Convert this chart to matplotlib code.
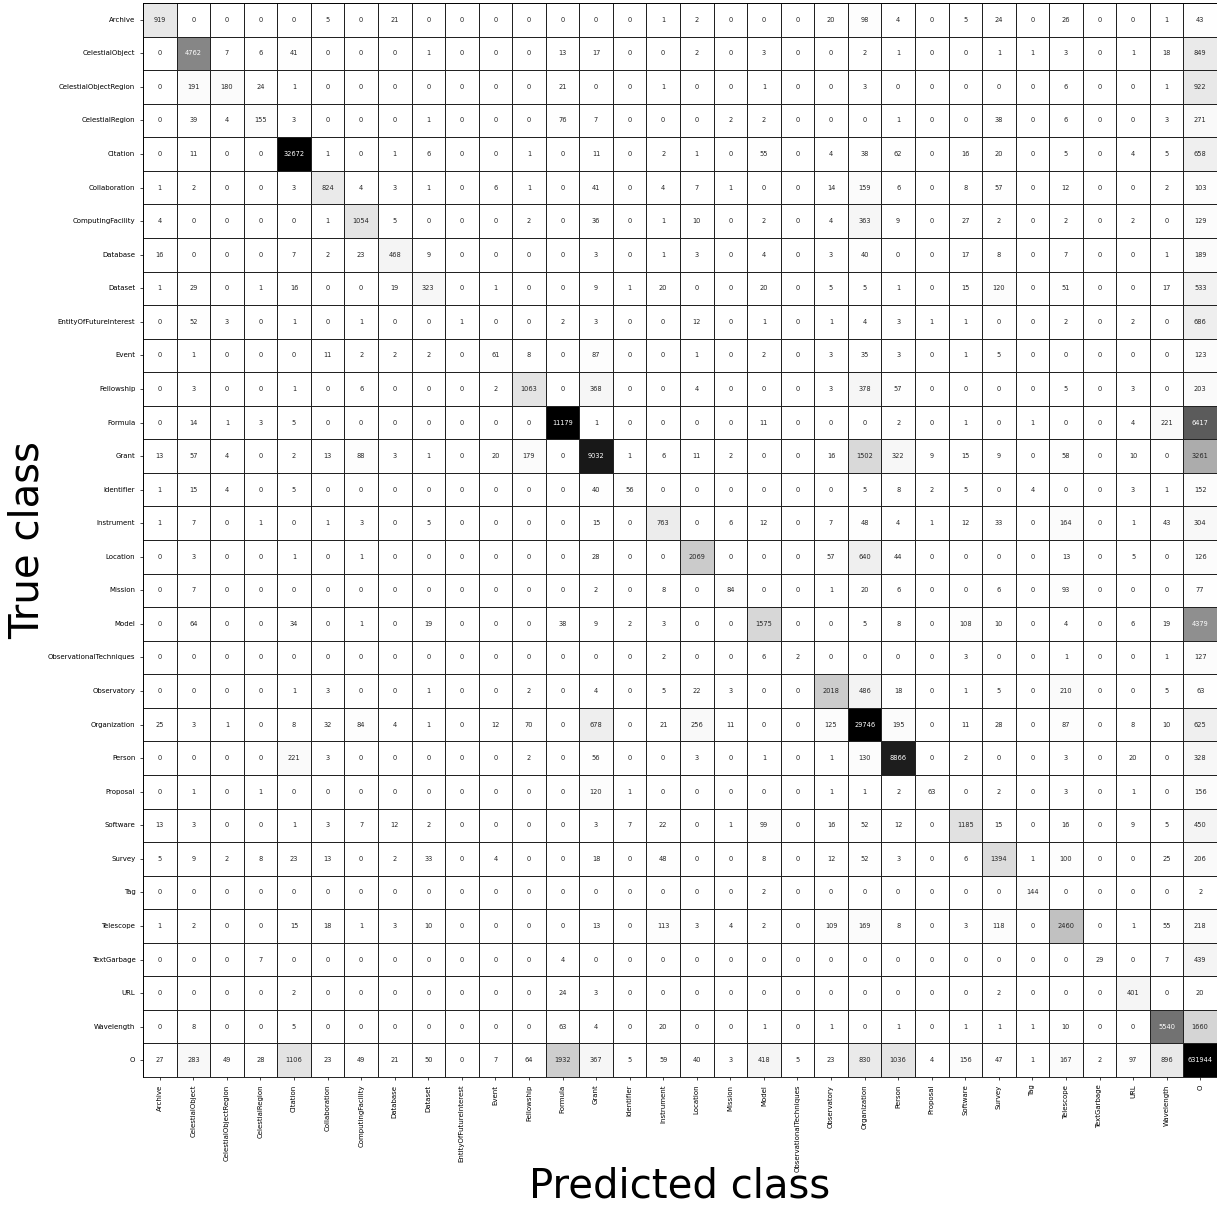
import numpy as np
import matplotlib
matplotlib.use("Agg")
import matplotlib.pyplot as plt
import seaborn as sns

classes = ["Archive", "CelestialObject", "CelestialObjectRegion", "CelestialRegion", "Citation",
           "Collaboration", "ComputingFacility", "Database", "Dataset", "EntityOfFutureInterest",
           "Event", "Fellowship", "Formula", "Grant", "Identifier", "Instrument", "Location",
           "Mission", "Model", "ObservationalTechniques", "Observatory", "Organization", "Person",
           "Proposal", "Software", "Survey", "Tag", "Telescope", "TextGarbage", "URL",
           "Wavelength", "O"]

row_archive = [919, 0, 0, 0, 0, 5, 0, 21, 0, 0, 0, 0, 0, 0, 0, 1, 2, 0, 0, 0, 20, 98, 4, 0, 5, 24, 0, 26, 0, 0, 1, 43]
row_celestialobject = [0, 4762, 7, 6, 41, 0, 0, 0, 1, 0, 0, 0, 13, 17, 0, 0, 2, 0, 3, 0, 0, 2, 1, 0, 0, 1, 1, 3, 0, 1, 18, 849]
row_celestialobjectregion = [0, 191, 180, 24, 1, 0, 0, 0, 0, 0, 0, 0, 21, 0, 0, 1, 0, 0, 1, 0, 0, 3, 0, 0, 0, 0, 0, 6, 0, 0, 1, 922]
row_celestialregion = [0, 39, 4, 155, 3, 0, 0, 0, 1, 0, 0, 0, 76, 7, 0, 0, 0, 2, 2, 0, 0, 0, 1, 0, 0, 38, 0, 6, 0, 0, 3, 271]
row_citation = [0, 11, 0, 0, 32672, 1, 0, 1, 6, 0, 0, 1, 0, 11, 0, 2, 1, 0, 55, 0, 4, 38, 62, 0, 16, 20, 0, 5, 0, 4, 5, 658]
row_collaboration = [1, 2, 0, 0, 3, 824, 4, 3, 1, 0, 6, 1, 0, 41, 0, 4, 7, 1, 0, 0, 14, 159, 6, 0, 8, 57, 0, 12, 0, 0, 2, 103]
row_computingfacility = [4, 0, 0, 0, 0, 1, 1054, 5, 0, 0, 0, 2, 0, 36, 0, 1, 10, 0, 2, 0, 4, 363, 9, 0, 27, 2, 0, 2, 0, 2, 0, 129]
row_database = [16, 0, 0, 0, 7, 2, 23, 468, 9, 0, 0, 0, 0, 3, 0, 1, 3, 0, 4, 0, 3, 40, 0, 0, 17, 8, 0, 7, 0, 0, 1, 189]
row_dataset = [1, 29, 0, 1, 16, 0, 0, 19, 323, 0, 1, 0, 0, 9, 1, 20, 0, 0, 20, 0, 5, 5, 1, 0, 15, 120, 0, 51, 0, 0, 17, 533]
row_entity = [0, 52, 3, 0, 1, 0, 1, 0, 0, 1, 0, 0, 2, 3, 0, 0, 12, 0, 1, 0, 1, 4, 3, 1, 1, 0, 0, 2, 0, 2, 0, 686]
row_event = [0, 1, 0, 0, 0, 11, 2, 2, 2, 0, 61, 8, 0, 87, 0, 0, 1, 0, 2, 0, 3, 35, 3, 0, 1, 5, 0, 0, 0, 0, 0, 123]
row_fellowship = [0, 3, 0, 0, 1, 0, 6, 0, 0, 0, 2, 1063, 0, 368, 0, 0, 4, 0, 0, 0, 3, 378, 57, 0, 0, 0, 0, 5, 0, 3, 0, 203]
row_formula = [0, 14, 1, 3, 5, 0, 0, 0, 0, 0, 0, 0, 11179, 1, 0, 0, 0, 0, 11, 0, 0, 0, 2, 0, 1, 0, 1, 0, 0, 4, 221, 6417]
row_grant = [13, 57, 4, 0, 2, 13, 88, 3, 1, 0, 20, 179, 0, 9032, 1, 6, 11, 2, 0, 0, 16, 1502, 322, 9, 15, 9, 0, 58, 0, 10, 0, 3261]
row_identifier = [1, 15, 4, 0, 5, 0, 0, 0, 0, 0, 0, 0, 0, 40, 56, 0, 0, 0, 0, 0, 0, 5, 8, 2, 5, 0, 4, 0, 0, 3, 1, 152]
row_instrument = [1, 7, 0, 1, 0, 1, 3, 0, 5, 0, 0, 0, 0, 15, 0, 763, 0, 6, 12, 0, 7, 48, 4, 1, 12, 33, 0, 164, 0, 1, 43, 304]
row_location = [0, 3, 0, 0, 1, 0, 1, 0, 0, 0, 0, 0, 0, 28, 0, 0, 2069, 0, 0, 0, 57, 640, 44, 0, 0, 0, 0, 13, 0, 5, 0, 126]
row_mission = [0, 7, 0, 0, 0, 0, 0, 0, 0, 0, 0, 0, 0, 2, 0, 8, 0, 84, 0, 0, 1, 20, 6, 0, 0, 6, 0, 93, 0, 0, 0, 77]
row_model = [0, 64, 0, 0, 34, 0, 1, 0, 19, 0, 0, 0, 38, 9, 2, 3, 0, 0, 1575, 0, 0, 5, 8, 0, 108, 10, 0, 4, 0, 6, 19, 4379]
row_obstech = [0, 0, 0, 0, 0, 0, 0, 0, 0, 0, 0, 0, 0, 0, 0, 2, 0, 0, 6, 2, 0, 0, 0, 0, 3, 0, 0, 1, 0, 0, 1, 127]
row_observatory = [0, 0, 0, 0, 1, 3, 0, 0, 1, 0, 0, 2, 0, 4, 0, 5, 22, 3, 0, 0, 2018, 486, 18, 0, 1, 5, 0, 210, 0, 0, 5, 63]
row_organization = [25, 3, 1, 0, 8, 32, 84, 4, 1, 0, 12, 70, 0, 678, 0, 21, 256, 11, 0, 0, 125, 29746, 195, 0, 11, 28, 0, 87, 0, 8, 10, 625]
row_person = [0, 0, 0, 0, 221, 3, 0, 0, 0, 0, 0, 2, 0, 56, 0, 0, 3, 0, 1, 0, 1, 130, 8866, 0, 2, 0, 0, 3, 0, 20, 0, 328]
row_proposal = [0, 1, 0, 1, 0, 0, 0, 0, 0, 0, 0, 0, 0, 120, 1, 0, 0, 0, 0, 0, 1, 1, 2, 63, 0, 2, 0, 3, 0, 1, 0, 156]
row_software = [13, 3, 0, 0, 1, 3, 7, 12, 2, 0, 0, 0, 0, 3, 7, 22, 0, 1, 99, 0, 16, 52, 12, 0, 1185, 15, 0, 16, 0, 9, 5, 450]
row_survey = [5, 9, 2, 8, 23, 13, 0, 2, 33, 0, 4, 0, 0, 18, 0, 48, 0, 0, 8, 0, 12, 52, 3, 0, 6, 1394, 1, 100, 0, 0, 25, 206]
row_tag = [0, 0, 0, 0, 0, 0, 0, 0, 0, 0, 0, 0, 0, 0, 0, 0, 0, 0, 2, 0, 0, 0, 0, 0, 0, 0, 144, 0, 0, 0, 0, 2]
row_telescope = [1, 2, 0, 0, 15, 18, 1, 3, 10, 0, 0, 0, 0, 13, 0, 113, 3, 4, 2, 0, 109, 169, 8, 0, 3, 118, 0, 2460, 0, 1, 55, 218]
row_textgarbage = [0, 0, 0, 7, 0, 0, 0, 0, 0, 0, 0, 0, 4, 0, 0, 0, 0, 0, 0, 0, 0, 0, 0, 0, 0, 0, 0, 0, 29, 0, 7, 439]
row_url = [0, 0, 0, 0, 2, 0, 0, 0, 0, 0, 0, 0, 24, 3, 0, 0, 0, 0, 0, 0, 0, 0, 0, 0, 0, 2, 0, 0, 0, 401, 0, 20]
row_wavelength = [0, 8, 0, 0, 5, 0, 0, 0, 0, 0, 0, 0, 63, 4, 0, 20, 0, 0, 1, 0, 1, 0, 1, 0, 1, 1, 1, 10, 0, 0, 5540, 1660]
row_o = [27, 283, 49, 28, 1106, 23, 49, 21, 50, 0, 7, 64, 1932, 367, 5, 59, 40, 3, 418, 5, 23, 830, 1036, 4, 156, 47, 1, 167, 2, 97, 896, 631944]

matrix = np.array([
    row_archive, row_celestialobject, row_celestialobjectregion, row_celestialregion,
    row_citation, row_collaboration, row_computingfacility, row_database, row_dataset,
    row_entity, row_event, row_fellowship, row_formula, row_grant, row_identifier,
    row_instrument, row_location, row_mission, row_model, row_obstech, row_observatory,
    row_organization, row_person, row_proposal, row_software, row_survey, row_tag,
    row_telescope, row_textgarbage, row_url, row_wavelength, row_o])

fig = plt.figure(figsize=(12.17, 12.07), dpi=100)
W, H = 1217, 1207
ax = fig.add_axes([143 / W, (H - 1077) / H, 1074 / W, 1074 / H])

sns.heatmap(matrix, ax=ax, cmap="binary", vmin=0, vmax=10000, annot=True, fmt="d",
            annot_kws={"fontsize": 4.8}, linewidths=0.6, linecolor="#222222", cbar=False,
            xticklabels=classes, yticklabels=classes, square=False)

for t in ax.texts:
    if t.get_color() in ("black", "#000000", (0, 0, 0, 1)):
        t.set_color("#333333")

ax.tick_params(axis="x", labelsize=5, rotation=90, length=2, width=0.5)
ax.tick_params(axis="y", labelsize=5, rotation=0, length=2, width=0.5)
for s in ax.spines.values():
    s.set_visible(True)
    s.set_linewidth(0.6)

fig.text(680 / W, 1 - 1187 / H, "Predicted class", fontsize=29, ha="center", va="center")
fig.text(28 / W, 1 - 540 / H, "True class", fontsize=29, ha="center", va="center", rotation=90)

fig.savefig("out.png", dpi=100)
